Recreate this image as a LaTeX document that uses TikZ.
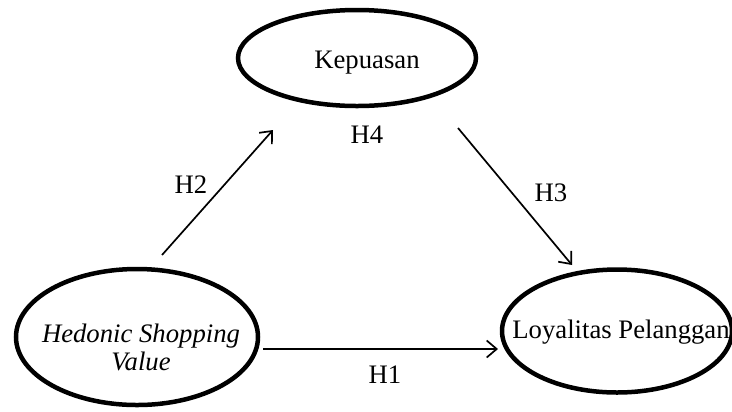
\documentclass[tikz,border=0pt]{standalone}
\usepackage{fontspec}
\setmainfont{Liberation Serif}
\usetikzlibrary{shapes.geometric,arrows.meta}
\begin{document}
\begin{tikzpicture}[x=1bp,y=-1bp,
  var/.style={draw,ellipse,line width=4.5bp,inner sep=0pt},
  lbl/.style={font=\fontsize{26.8}{30}\selectfont,inner sep=0pt,anchor=base},
  arr/.style={line width=1.7bp,-{Straight Barb[length=10bp,width=17bp,line width=1.7bp]}}]
\useasboundingbox (0,0) rectangle (732,411);
\node[var,minimum width=238bp,minimum height=96bp] (kep) at (357,58) {};
\node[var,minimum width=242bp,minimum height=136bp] (hsv) at (137,337) {};
\node[var,minimum width=230bp,minimum height=123bp] (loy) at (617,331) {};
\node[lbl] (tkep) at (367,68) {Kepuasan};
\node[lbl] (tloy) at (621,338) {Loyalitas Pelanggan};
\node[lbl,align=center,font=\fontsize{26.8}{28}\selectfont\itshape] (thsv) at (141,370) {Hedonic Shopping\\Value};
\coordinate (h2s) at (162,255);
\coordinate (h2e) at (273,130);
\coordinate (h3s) at (458,128);
\coordinate (h3e) at (572,265);
\coordinate (h1s) at (263,349);
\coordinate (h1e) at (498,349);
\draw[arr] (h2s) -- (h2e);
\draw[arr] (h3s) -- (h3e);
\draw[arr] (h1s) -- (h1e);
\node[lbl] (l2) at (191,193) {H2};
\node[lbl] (l4) at (367,143) {H4};
\node[lbl] (l3) at (551,201) {H3};
\node[lbl] (l1) at (385,383) {H1};
\end{tikzpicture}
\end{document}
